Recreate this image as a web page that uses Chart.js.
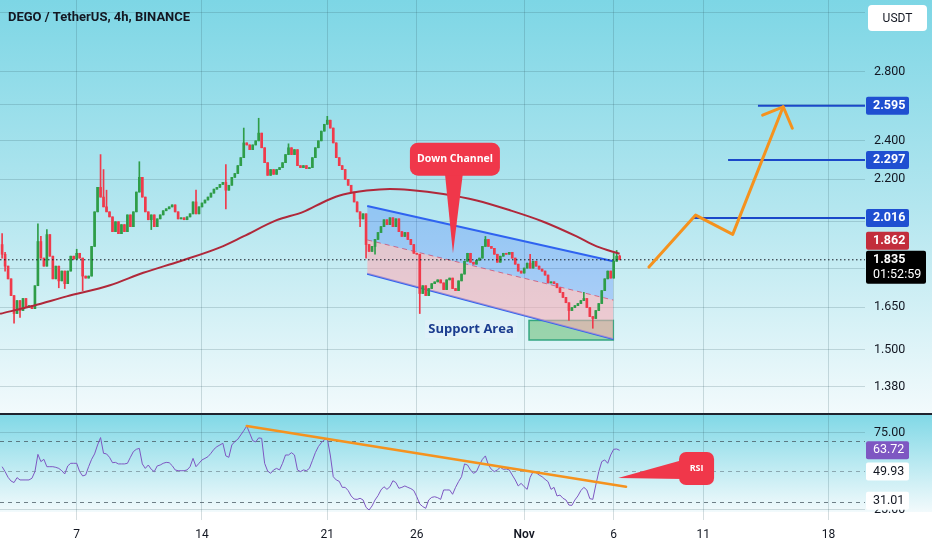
<!DOCTYPE html>
<html>
<head>
<meta charset="utf-8">
<script src="https://cdn.jsdelivr.net/npm/chart.js@4.4.1/dist/chart.umd.min.js"></script>
<style>
  html, body { margin: 0; padding: 0; background: #fff; }
  #wrap { width: 932px; height: 550px; overflow: hidden; }
  canvas { display: block; }
</style>
</head>
<body>
<div id="wrap">
  <canvas id="price" width="932" height="413"></canvas>
  <canvas id="rsi" width="932" height="137"></canvas>
</div>
<script>
// time axis: days counted from Oct 1 (Oct 7 = 6, Nov 1 = 31)
const DAY_TICKS = [6, 13, 20, 25, 31, 36, 41, 48];
const DAY_LABELS = ['7', '14', '21', '26', 'Nov', '6', '11', '18'];
const X_MIN = 1.715, X_MAX = 50.04;

// 4h candles, first one Oct 2 20:00
const FIRST_CANDLE_DAY = 1.833;
const OPEN_FIRST = 1.899;
const CLOSES = [
  1.858, 1.809, 1.758, 1.693, 1.626, 1.674, 1.637, 1.682, 1.648, 1.655,
  1.644, 1.731, 1.912, 1.842, 1.809, 1.942, 1.850, 1.758, 1.809, 1.750,
  1.789, 1.739, 1.789, 1.850, 1.838, 1.862, 1.842, 1.769, 1.761, 1.769,
  1.891, 2.044, 2.160, 2.113, 2.067, 2.044, 2.021, 1.955, 1.999, 1.946,
  1.986, 1.955, 2.030, 1.977, 2.044, 2.137, 2.209, 2.113, 2.044, 2.008,
  2.030, 1.977, 2.012, 2.030, 2.049, 2.058, 2.067, 2.076, 2.044, 2.012,
  2.017, 2.008, 2.021, 2.035, 2.090, 2.035, 2.067, 2.085, 2.099, 2.113,
  2.132, 2.151, 2.160, 2.174, 2.184, 2.146, 2.170, 2.209, 2.228, 2.268,
  2.309, 2.387, 2.376, 2.351, 2.376, 2.398, 2.440, 2.361, 2.283, 2.219,
  2.248, 2.224, 2.248, 2.258, 2.283, 2.325, 2.361, 2.325, 2.351, 2.268,
  2.258, 2.268, 2.253, 2.258, 2.309, 2.361, 2.398, 2.451, 2.489, 2.512,
  2.468, 2.387, 2.309, 2.268, 2.248, 2.199, 2.170, 2.137, 2.090, 2.044,
  2.012, 2.035, 1.899, 1.870, 1.891, 1.921, 1.951, 1.977, 2.008, 1.986,
  2.017, 1.977, 2.012, 1.955, 1.934, 1.951, 1.921, 1.899, 1.862, 1.858,
  1.701, 1.731, 1.693, 1.720, 1.739, 1.746, 1.754, 1.742, 1.716, 1.754,
  1.761, 1.720, 1.712, 1.750, 1.777, 1.829, 1.862, 1.825, 1.817, 1.833,
  1.842, 1.891, 1.921, 1.891, 1.883, 1.858, 1.825, 1.850, 1.862, 1.858,
  1.866, 1.842, 1.817, 1.789, 1.781, 1.801, 1.821, 1.801, 1.829, 1.809,
  1.797, 1.789, 1.773, 1.742, 1.746, 1.739, 1.723, 1.705, 1.686, 1.666,
  1.637, 1.648, 1.655, 1.663, 1.674, 1.682, 1.648, 1.615, 1.608, 1.637,
  1.663, 1.712, 1.758, 1.789, 1.761, 1.829, 1.850, 1.835
];
// [candle index, wick value] where a wick sticks out of the body
const HIGH_WICKS = [
  [0, 1.946], [1, 1.866], [12, 1.990], [13, 1.934], [15, 1.964], [25, 1.879],
  [33, 2.325], [34, 2.248], [35, 2.146], [46, 2.288], [65, 2.146], [75, 2.273],
  [81, 2.468], [86, 2.523], [96, 2.382], [109, 2.534], [162, 1.934], [177, 1.858],
  [195, 1.705], [205, 1.862], [206, 1.874], [207, 1.854]
];
const LOW_WICKS = [
  [0, 1.842], [1, 1.789], [4, 1.591], [6, 1.612], [19, 1.723], [21, 1.720],
  [27, 1.712], [50, 1.964], [75, 2.058], [120, 1.977], [122, 1.842], [125, 1.858],
  [140, 1.626], [190, 1.601], [198, 1.573]
];
const RSI = [
  53.1, 49.9, 46.2, 43.8, 42.8, 46.0, 44.5, 44.5, 44.5, 44.5,
  45.6, 49.9, 61.1, 56.4, 57.9, 53.1, 53.1, 53.1, 52.7, 52.0,
  50.5, 48.4, 53.6, 55.3, 55.3, 55.3, 49.9, 47.1, 47.7, 53.1,
  57.9, 61.4, 67.2, 72.0, 61.8, 61.4, 59.2, 55.7, 55.9, 54.9,
  54.9, 54.9, 55.3, 59.2, 62.9, 64.4, 65.0, 54.9, 52.0, 54.2,
  51.4, 49.9, 53.6, 54.2, 55.3, 55.9, 55.7, 53.8, 51.0, 50.5,
  50.5, 50.5, 51.0, 53.1, 58.5, 53.1, 55.3, 57.5, 58.5, 59.6,
  61.8, 64.4, 66.1, 67.2, 68.3, 60.1, 59.2, 67.2, 69.4, 70.9,
  73.7, 76.5, 79.5, 74.8, 70.0, 69.2, 71.8, 71.5, 55.3, 50.3,
  48.8, 51.0, 52.0, 51.0, 55.3, 60.7, 60.7, 62.2, 60.7, 51.0,
  49.9, 51.0, 50.5, 52.0, 57.0, 62.2, 66.1, 68.7, 70.5, 71.5,
  60.7, 46.6, 44.5, 43.6, 39.7, 39.7, 37.6, 34.1, 32.1, 31.9,
  32.6, 31.5, 26.7, 25.0, 27.6, 31.5, 34.3, 38.0, 40.1, 38.4,
  40.1, 44.0, 42.8, 39.1, 39.7, 40.6, 39.7, 38.9, 37.6, 33.6,
  28.9, 27.2, 26.1, 31.5, 33.2, 33.6, 33.0, 31.9, 38.0, 38.0,
  38.0, 35.2, 39.7, 43.4, 46.6, 54.9, 54.2, 51.0, 48.8, 49.9,
  54.2, 57.9, 60.1, 54.2, 51.4, 49.9, 51.0, 52.7, 51.4, 51.6,
  51.0, 47.7, 44.5, 40.6, 42.3, 40.1, 38.4, 46.2, 49.9, 49.2,
  47.7, 46.6, 44.9, 43.4, 38.4, 39.7, 34.1, 34.7, 32.6, 31.5,
  28.2, 28.0, 31.5, 34.1, 37.6, 39.7, 38.0, 32.4, 31.9, 41.2,
  49.9, 56.4, 57.5, 55.3, 60.7, 64.4, 64.6, 63.72
];

// long moving average (dark red)
const MA_DAYS = [1.72, 3.58, 5.44, 7.86, 9.72, 11.77, 14.01, 15.31, 17.17, 18.66, 19.97,
  20.89, 22.20, 23.50, 24.62, 26.48, 28.35, 30.21, 32.07, 33.93, 35.05, 36.33];
const MA_VALUES = [1.625, 1.655, 1.690, 1.733, 1.782, 1.829, 1.887, 1.934, 2.006, 2.044, 2.097,
  2.125, 2.144, 2.152, 2.147, 2.128, 2.097, 2.051, 1.999, 1.934, 1.891, 1.860];

const PRICE_TICKS = [1.38, 1.5, 1.65, 1.8, 2.0, 2.2, 2.4, 2.6, 2.8, 3.2];
const PRICE_MIN = 1.3205, PRICE_MAX = 3.292;

// drawings
const CHANNEL_DAYS = [22.23, 35.98];
const CHANNEL_TOP = [2.071, 1.829];
const CHANNEL_MID = [1.919, 1.676];
const CHANNEL_BOTTOM = [1.778, 1.535];
const SUPPORT_DAYS = [31.27, 35.98];
const SUPPORT_PRICES = [1.532, 1.601];
const SUPPORT_LABEL_AT = [28.03, 1.570];
const CHANNEL_NOTE_AT = [27.13, 2.301];
const CHANNEL_NOTE_TIP = [27.02, 1.862];
const PATH_DAYS = [37.97, 40.58, 42.65, 45.47];
const PATH_PRICES = [1.805, 2.029, 1.943, 2.589];
const ARROW_DAYS = [44.32, 45.47, 45.98];
const ARROW_PRICES = [2.541, 2.589, 2.467];
const LEVELS = [2.595, 2.297, 2.016];
const LEVEL_STARTS = [44.06, 42.39, 40.43];
const LAST_PRICE = 1.835, MA_LAST = 1.862, COUNTDOWN = '01:52:59';

const RSI_MIN = 23.7, RSI_MAX = 87.3;
const RSI_BANDS = [70, 50, 30];
const RSI_AXIS = [25, 75];
const RSI_TREND_DAYS = [15.50, 36.69];
const RSI_TREND_VALUES = [79.5, 40.1];
const RSI_NOTE_AT = [40.63, 51.9];
const RSI_NOTE_TIP = [36.25, 45.8];
const RSI_MA_LAST = 49.93, RSI_LOWER_LAST = 31.01;

const GREEN = '#2e9d48', RED = '#f03a4b';
const GRID = 'rgba(45,85,95,0.2)';
const ORANGE = '#f5921e';
const LEVEL_BLUE = '#1b48c9';
const FONT = 'Roboto, "Noto Sans", sans-serif';
Chart.defaults.font.family = FONT;

const dayOf = i => FIRST_CANDLE_DAY + i / 6;
const pts = (xs, ys) => xs.map((x, i) => ({ x, y: ys[i] }));

const highMap = new Map(HIGH_WICKS), lowMap = new Map(LOW_WICKS);
const bodies = [], wicks = [], candleColors = [];
CLOSES.forEach((c, i) => {
  const o = i === 0 ? OPEN_FIRST : CLOSES[i - 1];
  const hi = Math.max(o, c, highMap.has(i) ? highMap.get(i) : 0);
  const lo = Math.min(o, c, lowMap.has(i) ? lowMap.get(i) : Infinity);
  bodies.push({ x: dayOf(i), y: [o, c] });
  wicks.push({ x: dayOf(i), y: [lo, hi] });
  candleColors.push(c >= o ? GREEN : RED);
});

function xAxis(showLabels) {
  return {
    type: 'linear', min: X_MIN, max: X_MAX, offset: false,
    afterBuildTicks: s => { s.ticks = DAY_TICKS.map(v => ({ value: v })); },
    afterFit: s => { s.height = showLabels ? 38 : 0; s.paddingLeft = 0; s.paddingRight = 0; },
    grid: { color: GRID, drawTicks: showLabels, tickLength: 8, offset: false },
    border: { display: false },
    ticks: {
      display: showLabels, autoSkip: false, maxRotation: 0, padding: 8, color: '#131722',
      font: c => ({ size: 12, family: FONT, weight: c.tick && c.tick.label === 'Nov' ? '600' : 'normal' }),
      callback: v => DAY_LABELS[DAY_TICKS.indexOf(v)]
    }
  };
}

// right-hand value axis: fixed width, labels painted by the panel plugins
function yAxis(extra) {
  return Object.assign({
    position: 'right',
    afterFit: s => { s.width = 67; },
    grid: { color: GRID, drawTicks: false },
    border: { display: false },
    ticks: { display: false }
  }, extra);
}

function roundBox(ctx, x, y, w, h, r, color) {
  ctx.fillStyle = color;
  ctx.beginPath();
  ctx.roundRect(x, y, w, h, r);
  ctx.fill();
}

function valueBox(ctx, top, h, w, bg, fg, lines) {
  roundBox(ctx, 866, top, w, h, 2, bg);
  ctx.fillStyle = fg;
  ctx.textAlign = 'left';
  ctx.textBaseline = 'middle';
  lines.forEach((l, k) => {
    ctx.font = l.font;
    ctx.fillText(l.text, 873, top + 9 + k * 15.5);
  });
}

const pricePanel = {
  id: 'pricePanel',
  beforeDraw(chart) {
    const { ctx, width, height } = chart;
    const g = ctx.createLinearGradient(0, 0, 0, height);
    g.addColorStop(0, '#7dd6e5');
    g.addColorStop(0.5, '#b3e6ef');
    g.addColorStop(1, '#f2fafc');
    ctx.save();
    ctx.fillStyle = g;
    ctx.fillRect(0, 0, width, height);
    ctx.restore();
  },
  beforeDatasetsDraw(chart) {
    const { ctx } = chart;
    const xs = chart.scales.x, ys = chart.scales.y;
    const x0 = xs.getPixelForValue(SUPPORT_DAYS[0]), x1 = xs.getPixelForValue(SUPPORT_DAYS[1]);
    const y0 = ys.getPixelForValue(SUPPORT_PRICES[1]), y1 = ys.getPixelForValue(SUPPORT_PRICES[0]);
    ctx.save();
    ctx.fillStyle = 'rgba(76,175,80,0.45)';
    ctx.fillRect(x0, y0, x1 - x0, y1 - y0);
    ctx.strokeStyle = 'rgba(38,160,120,0.9)';
    ctx.lineWidth = 1.5;
    ctx.strokeRect(x0, y0, x1 - x0, y1 - y0);
    ctx.restore();
  },
  afterDatasetsDraw(chart) {
    const { ctx } = chart;
    const xs = chart.scales.x, ys = chart.scales.y;
    ctx.save();
    // support area label
    const sx = xs.getPixelForValue(SUPPORT_LABEL_AT[0]), sy = ys.getPixelForValue(SUPPORT_LABEL_AT[1]);
    ctx.fillStyle = 'rgba(228,242,250,0.6)';
    ctx.fillRect(sx - 46, sy - 9, 92, 18);
    ctx.fillStyle = '#1b3c8f';
    ctx.font = '700 13px "Open Sans"';
    ctx.textAlign = 'center';
    ctx.textBaseline = 'middle';
    ctx.fillText('Support Area', sx, sy + 0.5);
    // down channel callout
    const cx = xs.getPixelForValue(CHANNEL_NOTE_AT[0]), cy = ys.getPixelForValue(CHANNEL_NOTE_AT[1]);
    const tx = xs.getPixelForValue(CHANNEL_NOTE_TIP[0]), ty = ys.getPixelForValue(CHANNEL_NOTE_TIP[1]);
    ctx.fillStyle = '#f0374a';
    ctx.beginPath();
    ctx.moveTo(cx - 10, cy + 14);
    ctx.lineTo(tx, ty);
    ctx.lineTo(cx + 8, cy + 14);
    ctx.fill();
    roundBox(ctx, cx - 45, cy - 16.5, 90, 33, 8, '#f0374a');
    ctx.fillStyle = '#ffffff';
    ctx.font = '700 10.5px "Open Sans"';
    ctx.fillText('Down Channel', cx, cy);
    ctx.restore();
  },
  afterDraw(chart) {
    const { ctx } = chart;
    const ys = chart.scales.y;
    ctx.save();
    ctx.fillStyle = '#131722';
    ctx.font = '700 13px Roboto';
    ctx.textAlign = 'left';
    ctx.textBaseline = 'middle';
    ctx.fillText('DEGO / TetherUS, 4h, BINANCE', 8, 18);
    // price axis tick labels
    ctx.font = '12.5px ' + FONT;
    PRICE_TICKS.forEach(v => ctx.fillText(v.toFixed(3), 874, ys.getPixelForValue(v)));
    // currency box
    roundBox(ctx, 868, 5, 59, 26, 4, '#ffffff');
    ctx.fillStyle = '#131722';
    ctx.font = '12px ' + FONT;
    ctx.textAlign = 'center';
    ctx.fillText('USDT', 897.5, 18.5);
    // level labels
    const bold = '700 12.5px ' + FONT;
    LEVELS.forEach(v => {
      valueBox(ctx, ys.getPixelForValue(v) - 9, 18, 43, '#1f4fd1', '#ffffff', [{ text: v.toFixed(3), font: bold }]);
    });
    const lastTop = ys.getPixelForValue(LAST_PRICE) - 9;
    const maBottom = Math.min(ys.getPixelForValue(MA_LAST) + 9, lastTop - 1);
    valueBox(ctx, maBottom - 18, 18, 43, '#c22d3b', '#ffffff', [{ text: MA_LAST.toFixed(3), font: bold }]);
    valueBox(ctx, lastTop, 33, 60, '#000000', '#ffffff', [
      { text: LAST_PRICE.toFixed(3), font: bold },
      { text: COUNTDOWN, font: '12.5px ' + FONT }
    ]);
    ctx.restore();
  }
};

new Chart(document.getElementById('price'), {
  type: 'bar',
  data: {
    datasets: [
      { type: 'line', data: pts(CHANNEL_DAYS, CHANNEL_TOP), borderColor: '#2f63f0', borderWidth: 2,
        pointRadius: 0, fill: { target: '+1' }, backgroundColor: 'rgba(41,98,255,0.24)', order: 30 },
      { type: 'line', data: pts(CHANNEL_DAYS, CHANNEL_MID), borderColor: 'rgba(230,80,95,0.8)', borderWidth: 1,
        borderDash: [5, 4], pointRadius: 0, fill: { target: '+1' }, backgroundColor: 'rgba(255,170,178,0.55)', order: 30 },
      { type: 'line', data: pts(CHANNEL_DAYS, CHANNEL_BOTTOM), borderColor: '#2f63f0', borderWidth: 2,
        pointRadius: 0, fill: false, order: 30 },
      { data: wicks, backgroundColor: candleColors, barThickness: 1, grouped: false, order: 21 },
      { data: bodies, backgroundColor: candleColors, barThickness: 2, minBarLength: 1, grouped: false, order: 20 },
      { type: 'line', data: pts(MA_DAYS, MA_VALUES), borderColor: '#b0283a', borderWidth: 2, pointRadius: 0,
        cubicInterpolationMode: 'monotone', order: 10 },
      { type: 'line', data: pts([X_MIN, X_MAX], [LAST_PRICE, LAST_PRICE]), borderColor: '#131722', borderWidth: 1,
        borderDash: [1.5, 2.5], pointRadius: 0, order: 3 },
      ...LEVELS.map((v, k) => ({ type: 'line', data: pts([LEVEL_STARTS[k], X_MAX], [v, v]),
        borderColor: LEVEL_BLUE, borderWidth: 2, pointRadius: 0, order: 2 })),
      { type: 'line', data: pts(PATH_DAYS, PATH_PRICES), borderColor: ORANGE, borderWidth: 3, pointRadius: 0,
        borderCapStyle: 'round', borderJoinStyle: 'round', order: 1 },
      { type: 'line', data: pts(ARROW_DAYS, ARROW_PRICES), borderColor: ORANGE, borderWidth: 3, pointRadius: 0,
        borderCapStyle: 'round', borderJoinStyle: 'round', order: 1 }
    ]
  },
  options: {
    responsive: false, animation: false, events: [],
    layout: { padding: 0 },
    plugins: { legend: { display: false }, tooltip: { enabled: false } },
    scales: {
      x: xAxis(false),
      y: yAxis({
        type: 'logarithmic', min: PRICE_MIN, max: PRICE_MAX,
        afterBuildTicks: s => { s.ticks = PRICE_TICKS.map(v => ({ value: v })); }
      })
    }
  },
  plugins: [pricePanel]
});

const rsiPanel = {
  id: 'rsiPanel',
  beforeDraw(chart) {
    const { ctx, width, height, chartArea } = chart;
    ctx.save();
    ctx.fillStyle = '#ffffff';
    ctx.fillRect(0, 0, width, height);
    const g = ctx.createLinearGradient(0, chartArea.top, 0, chartArea.bottom);
    g.addColorStop(0, '#80d8e6');
    g.addColorStop(1, '#f2fafc');
    ctx.fillStyle = g;
    ctx.fillRect(0, chartArea.top, width, chartArea.bottom - chartArea.top);
    ctx.fillStyle = '#1e222d';
    ctx.fillRect(0, 0, width, 2);
    ctx.restore();
  },
  beforeDatasetsDraw(chart) {
    const { ctx, chartArea } = chart;
    const ys = chart.scales.y;
    ctx.save();
    ctx.setLineDash([4, 4]);
    ctx.lineWidth = 1;
    RSI_BANDS.forEach(v => {
      const y = Math.round(ys.getPixelForValue(v)) + 0.5;
      ctx.strokeStyle = v === 50 ? 'rgba(70,85,95,0.45)' : 'rgba(70,85,95,0.75)';
      ctx.beginPath();
      ctx.moveTo(chartArea.left, y);
      ctx.lineTo(chartArea.right, y);
      ctx.stroke();
    });
    ctx.restore();
  },
  afterDatasetsDraw(chart) {
    const { ctx } = chart;
    const xs = chart.scales.x, ys = chart.scales.y;
    const cx = xs.getPixelForValue(RSI_NOTE_AT[0]), cy = ys.getPixelForValue(RSI_NOTE_AT[1]);
    const tx = xs.getPixelForValue(RSI_NOTE_TIP[0]), ty = ys.getPixelForValue(RSI_NOTE_TIP[1]);
    ctx.save();
    ctx.fillStyle = '#f0374a';
    ctx.beginPath();
    ctx.moveTo(cx - 14, cy - 8.5);
    ctx.lineTo(tx, ty);
    ctx.lineTo(cx - 14, cy + 10.5);
    ctx.fill();
    roundBox(ctx, cx - 17.5, cy - 16.5, 35, 33, 7, '#f0374a');
    ctx.fillStyle = '#ffffff';
    ctx.font = '700 9px "Open Sans"';
    ctx.textAlign = 'center';
    ctx.textBaseline = 'middle';
    ctx.fillText('RSI', cx, cy);
    ctx.restore();
  },
  afterDraw(chart) {
    const { ctx, chartArea } = chart;
    const ys = chart.scales.y;
    ctx.save();
    ctx.beginPath();
    ctx.rect(chartArea.right, chartArea.top, 67, chartArea.bottom - chartArea.top + 1);
    ctx.clip();
    ctx.fillStyle = '#131722';
    ctx.font = '12.5px ' + FONT;
    ctx.textAlign = 'left';
    ctx.textBaseline = 'middle';
    RSI_AXIS.forEach(v => ctx.fillText(v.toFixed(2), 874, ys.getPixelForValue(v)));
    const reg = '12.5px ' + FONT;
    valueBox(ctx, ys.getPixelForValue(RSI[RSI.length - 1]) - 9, 18, 43, '#7e57c2', '#ffffff',
      [{ text: RSI[RSI.length - 1].toFixed(2), font: reg }]);
    valueBox(ctx, ys.getPixelForValue(RSI_MA_LAST) - 9, 18, 43, '#ffffff', '#131722',
      [{ text: RSI_MA_LAST.toFixed(2), font: reg }]);
    valueBox(ctx, ys.getPixelForValue(RSI_LOWER_LAST) - 9, 18, 43, '#ffffff', '#131722',
      [{ text: RSI_LOWER_LAST.toFixed(2), font: reg }]);
    ctx.restore();
  }
};

new Chart(document.getElementById('rsi'), {
  type: 'line',
  data: {
    datasets: [
      { data: RSI.map((v, i) => ({ x: dayOf(i), y: v })), borderColor: '#7e57c2', borderWidth: 1,
        pointRadius: 0, tension: 0, order: 2 },
      { data: pts(RSI_TREND_DAYS, RSI_TREND_VALUES), borderColor: ORANGE, borderWidth: 2.5,
        pointRadius: 0, borderCapStyle: 'round', order: 1 }
    ]
  },
  options: {
    responsive: false, animation: false, events: [],
    layout: { padding: { top: 1 } },
    plugins: { legend: { display: false }, tooltip: { enabled: false } },
    scales: {
      x: xAxis(true),
      y: yAxis({
        min: RSI_MIN, max: RSI_MAX,
        afterBuildTicks: s => { s.ticks = RSI_AXIS.map(v => ({ value: v })); }
      })
    }
  },
  plugins: [rsiPanel]
});
</script>
</body>
</html>
